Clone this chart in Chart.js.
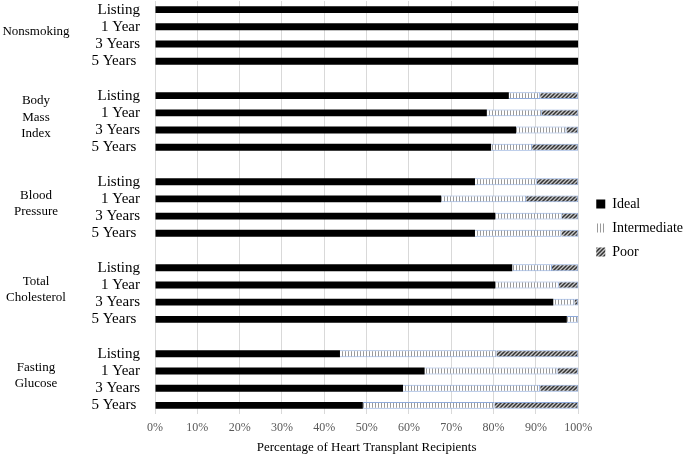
<!DOCTYPE html>
<html>
<head>
<meta charset="utf-8">
<script src="https://cdn.jsdelivr.net/npm/chart.js@4/dist/chart.umd.min.js"></script>
<style>
  html, body { margin: 0; padding: 0; background: #fff; }
  #wrap { width: 685px; height: 455px; position: relative; }
</style>
</head>
<body>
<div id="wrap"><canvas id="c" width="685" height="455"></canvas></div>
<script>
// ---- data ----
const groups = ['Nonsmoking', 'Body Mass Index', 'Blood Pressure', 'Total Cholesterol', 'Fasting Glucose'];
const groupLines = [['Nonsmoking'], ['Body', 'Mass', 'Index'], ['Blood', 'Pressure'], ['Total', 'Cholesterol'], ['Fasting', 'Glucose']];
const timepoints = ['Listing', '1 Year', '3 Years', '5 Years '];
const seriesNames = ['Ideal', 'Intermediate', 'Poor'];
const xTicks = [0, 10, 20, 30, 40, 50, 60, 70, 80, 90, 100];

// percentages, in order: group by group, Listing / 1 / 3 / 5 years
const idealPct = [
  100, 100, 100, 100,
  83.6, 78.4, 85.3, 79.4,
  75.6, 67.6, 80.4, 75.6,
  84.4, 80.4, 94.1, 97.3,
  43.7, 63.7, 58.6, 49.1
];
const intermediatePct = [
  0, 0, 0, 0,
  7.4, 13.0, 11.9, 9.7,
  14.6, 20.1, 15.7, 20.4,
  9.4, 15.0, 5.0, 2.7,
  37.0, 31.4, 32.4, 31.1
];
const poorPct = [
  0, 0, 0, 0,
  9.0, 8.6, 2.8, 10.9,
  9.8, 12.3, 3.9, 4.0,
  6.2, 4.6, 0.9, 0,
  19.3, 4.9, 9.0, 19.8
];

// ---- build category rows with a blank spacer row between groups ----
const labels = [];
const rowIndex = [];
const groupCenters = [];
groups.forEach((g, gi) => {
  if (gi > 0) labels.push('');
  const start = labels.length;
  timepoints.forEach((t) => { rowIndex.push(labels.length); labels.push(t); });
  groupCenters.push((start + labels.length - 1) / 2);
});
function spread(arr) {
  const out = new Array(labels.length).fill(null);
  arr.forEach((v, i) => { out[rowIndex[i]] = v; });
  return out;
}

// ---- patterns ----
function makePattern(kind) {
  const p = document.createElement('canvas');
  const ctx = p.getContext('2d');
  if (kind === 'vert') {
    p.width = 3; p.height = 3;
    ctx.fillStyle = '#ffffff'; ctx.fillRect(0, 0, 3, 3);
    ctx.fillStyle = '#9a9a9a'; ctx.fillRect(0, 0, 1, 3);
  } else {
    p.width = 4; p.height = 4;
    ctx.fillStyle = '#c8c8c8'; ctx.fillRect(0, 0, 4, 4);
    ctx.strokeStyle = '#333333'; ctx.lineWidth = 1.5;
    ctx.beginPath();
    ctx.moveTo(-1, 5); ctx.lineTo(5, -1);
    ctx.moveTo(-1, 1); ctx.lineTo(1, -1);
    ctx.moveTo(3, 5); ctx.lineTo(5, 3);
    ctx.stroke();
  }
  return document.getElementById('c').getContext('2d').createPattern(p, 'repeat');
}
const vertPat = makePattern('vert');
const diagPat = makePattern('diag');

const SERIF = "'Liberation Serif', 'Times New Roman', serif";
const borderBlue = '#8eaadb';

const groupLabelPlugin = {
  id: 'groupLabels',
  afterLayout(chart) {
    if (chart.legend) { chart.legend.left += 8; chart.legend.right += 8; }
  },
  afterDraw(chart) {
    const y = chart.scales.y;
    const ctx = chart.ctx;
    ctx.save();
    ctx.font = '13px ' + SERIF;
    ctx.fillStyle = '#000';
    ctx.textAlign = 'center';
    ctx.textBaseline = 'middle';
    const lh = 16.5;
    groupLines.forEach((lines, gi) => {
      const cy = y.getPixelForValue(groupCenters[gi]) - 4;
      const y0 = cy - (lines.length - 1) * lh / 2;
      lines.forEach((ln, li) => ctx.fillText(ln, 36, y0 + li * lh));
    });
    ctx.restore();
  }
};

const bw = (ctx) => (ctx.raw ? 1 : 0);

new Chart(document.getElementById('c'), {
  type: 'bar',
  data: {
    labels: labels,
    datasets: [
      { label: seriesNames[0], data: spread(idealPct), backgroundColor: '#000000', borderWidth: 0 },
      { label: seriesNames[1], data: spread(intermediatePct), backgroundColor: vertPat, borderColor: borderBlue, borderWidth: bw },
      { label: seriesNames[2], data: spread(poorPct), backgroundColor: diagPat, borderColor: borderBlue, borderWidth: bw }
    ]
  },
  options: {
    indexAxis: 'y',
    responsive: false,
    animation: false,
    devicePixelRatio: 1,
    datasets: { bar: { categoryPercentage: 1, barPercentage: 0.4 } },
    layout: { padding: { top: 1, right: 0, bottom: 0, left: 0 } },
    scales: {
      x: {
        stacked: true, min: 0, max: 100,
        afterBuildTicks: (s) => { s.ticks = xTicks.map(v => ({ value: v })); },
        afterFit: (s) => { s.height = 41; },
        ticks: { callback: (v) => v + '%', color: '#595959', font: { family: SERIF, size: 12 }, padding: 7, maxRotation: 0 },
        grid: { color: '#d9d9d9', drawTicks: false, tickLength: 0 },
        border: { display: false },
        title: { display: true, text: 'Percentage of Heart Transplant Recipients', color: '#000', font: { family: SERIF, size: 13 }, padding: { top: 4, bottom: 0 } }
      },
      y: {
        stacked: true,
        afterFit: (s) => { s.width = 155; s.paddingTop = 0; s.paddingBottom = 0; },
        ticks: { color: '#000', font: { family: SERIF, size: 15 }, padding: 15, autoSkip: false },
        grid: { display: false, drawTicks: false, tickLength: 0 },
        border: { display: false }
      }
    },
    plugins: {
      legend: {
        position: 'right',
        labels: { boxWidth: 9, boxHeight: 9, padding: 10, color: '#000', font: { family: SERIF, size: 14 } }
      },
      tooltip: { enabled: false }
    }
  },
  plugins: [groupLabelPlugin]
});
</script>
</body>
</html>
